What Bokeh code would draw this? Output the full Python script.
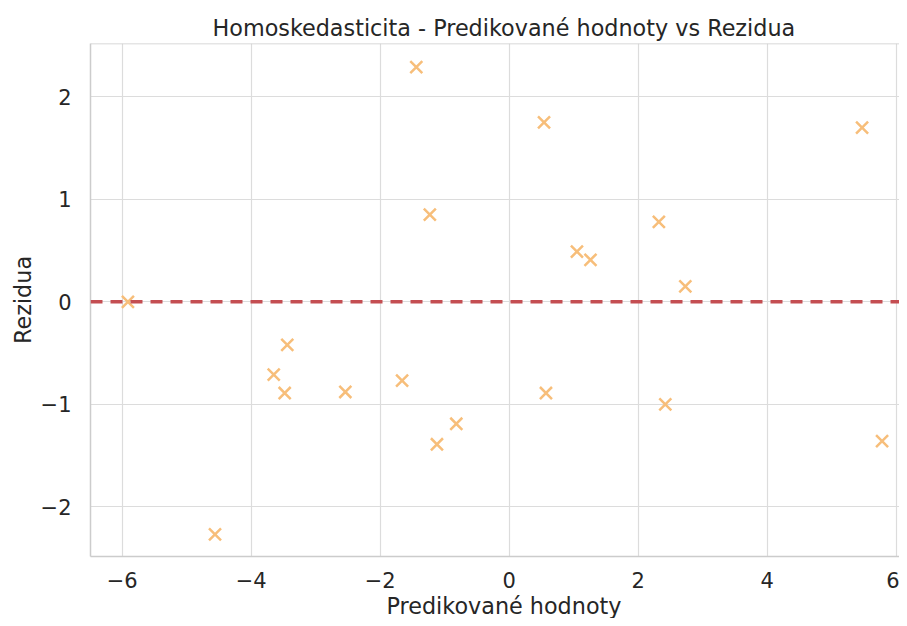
from bokeh.plotting import figure
from bokeh.models import Range1d, FixedTicker, CustomJSTickFormatter, Span, Title
from bokeh.embed import file_html
from bokeh.resources import INLINE

# Data
predicted = [-1.44, -1.23, -5.91, 0.54, 5.47, 2.32, 1.05, 1.26, 2.73,
             -3.44, -3.65, -3.48, -2.54, -1.66, -0.82, -1.12, -4.56,
             0.57, 2.42, 5.78]
residuals = [2.29, 0.85, 0.00, 1.75, 1.70, 0.78, 0.49, 0.41, 0.15,
             -0.42, -0.71, -0.89, -0.88, -0.77, -1.19, -1.39, -2.27,
             -0.89, -1.00, -1.36]
x_ticks = [-6, -4, -2, 0, 2, 4, 6]
y_ticks = [-2, -1, 0, 1, 2]
title_text = "Homoskedasticita - Predikované hodnoty vs Rezidua"
x_label = "Predikované hodnoty"
y_label = "Rezidua"

FONT = "DejaVu Sans"
TXT = "#262626"

x_start, x_end = -6.49, 6.05
y_start, y_end = -2.485, 2.52

p = figure(width=899, height=618, output_backend="svg", toolbar_location=None,
           x_range=Range1d(x_start, x_end), y_range=Range1d(y_start, y_end),
           min_border_left=90, min_border_right=0, min_border_top=43,
           min_border_bottom=40)

p.background_fill_color = "white"
p.border_fill_color = "white"
p.outline_line_color = None

p.title.text = title_text
p.title.text_font = FONT
p.title.text_font_size = "22.3px"
p.title.text_font_style = "normal"
p.title.text_color = TXT
p.title.align = "left"
p.title.offset = 122
p.title.standoff = 6

minus_fmt = CustomJSTickFormatter(code="return tick.toString().replace('-', '\\u2212');")

for ax, ticks in ((p.xaxis, x_ticks), (p.yaxis, y_ticks)):
    ax.ticker = FixedTicker(ticks=ticks)
    ax.formatter = minus_fmt
    ax.major_tick_line_color = None
    ax.minor_tick_line_color = None
    ax.major_tick_out = 0
    ax.major_tick_in = 0
    ax.axis_line_color = "#cccccc"
    ax.axis_line_width = 1.5
    ax.major_label_text_font = FONT
    ax.major_label_text_font_size = "21px"
    ax.major_label_text_color = TXT
    ax.axis_label_text_font = FONT
    ax.axis_label_text_font_size = "22.3px"
    ax.axis_label_text_font_style = "normal"
    ax.axis_label_text_color = TXT

p.yaxis.axis_label = y_label
p.xaxis.major_label_standoff = 15
p.yaxis.major_label_standoff = 19
p.yaxis.axis_label_standoff = 2

# x-axis label placed as a text block below the axis, aligned like the reference
xlab = Title(text=x_label, align="left", offset=296, standoff=0,
             text_font=FONT, text_font_size="22.3px", text_font_style="normal",
             text_color=TXT)
p.add_layout(xlab, "below")

p.xgrid.ticker = FixedTicker(ticks=x_ticks)
p.ygrid.ticker = FixedTicker(ticks=y_ticks)
p.grid.grid_line_color = "#dcdcdc"
p.grid.grid_line_width = 1.2

# top spine
p.add_layout(Span(location=y_end, dimension="width", line_color="#cccccc", line_width=1.5))

p.scatter(predicted, residuals, marker="x", size=17, line_width=2.5,
          line_color="#f7be7a")

p.add_layout(Span(location=0, dimension="width", line_color="#c44e52",
                  line_width=3.5, line_dash="12 8"))

open("out.html", "w").write(file_html(p, INLINE))
